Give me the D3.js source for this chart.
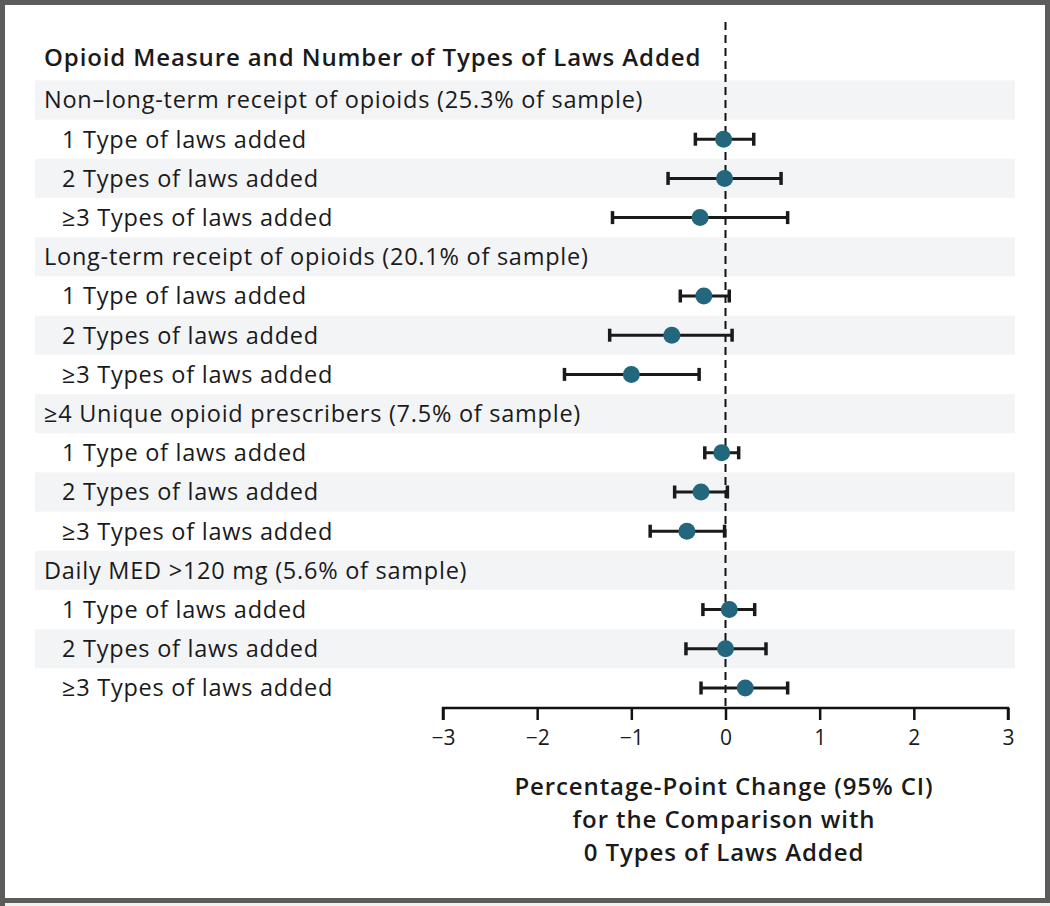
<!DOCTYPE html>
<html>
<head>
<meta charset="utf-8">
<script src="https://cdn.jsdelivr.net/npm/d3@7"></script>
<style>
  html, body { margin: 0; padding: 0; background: #ffffff; }
  svg { display: block; }
  text { font-family: "Open Sans", "Noto Sans", sans-serif; fill: #1a1a1a; }
</style>
</head>
<body>
<svg id="chart" width="1050" height="906"></svg>
<script>
// ---- Data ----
const title = "Opioid Measure and Number of Types of Laws Added";
const measures = [
  "Non\u2013long-term receipt of opioids (25.3% of sample)",
  "Long-term receipt of opioids (20.1% of sample)",
  "\u22654 Unique opioid prescribers (7.5% of sample)",
  "Daily MED >120 mg (5.6% of sample)"
];
const lawLevels = ["1 Type of laws added", "2 Types of laws added", "\u22653 Types of laws added"];
// estimates and 95% CI per measure (rows) x law level (cols)
const estimates = [
  [-0.02, -0.01, -0.27],
  [-0.23, -0.57, -1.00],
  [-0.04, -0.26, -0.41],
  [ 0.04,  0.00,  0.21]
];
const lowerCI = [
  [-0.32, -0.61, -1.20],
  [-0.48, -1.23, -1.71],
  [-0.22, -0.54, -0.80],
  [-0.24, -0.42, -0.26]
];
const upperCI = [
  [ 0.30,  0.59,  0.66],
  [ 0.04,  0.07, -0.28],
  [ 0.14,  0.02, -0.01],
  [ 0.31,  0.43,  0.66]
];
const xTicks = [-3, -2, -1, 0, 1, 2, 3];
const xTickLabels = ["\u22123", "\u22122", "\u22121", "0", "1", "2", "3"];
const axisTitle = ["Percentage-Point Change (95% CI)", "for the Comparison with", "0 Types of Laws Added"];

// ---- Build rows ----
const rows = [];
measures.forEach((m, i) => {
  rows.push({ label: m, header: true });
  lawLevels.forEach((l, j) => {
    rows.push({ label: l, header: false, est: estimates[i][j], lo: lowerCI[i][j], hi: upperCI[i][j] });
  });
});

const svg = d3.select("#chart");
const W = 1050, H = 906;

// frame
svg.append("rect").attr("x", 0).attr("y", 0).attr("width", W).attr("height", H).attr("fill", "#5c5c5c");
svg.append("rect").attr("x", 0).attr("y", 903).attr("width", W).attr("height", 3).attr("fill", "#f2f2ee");
svg.append("rect").attr("x", 0).attr("y", 899).attr("width", 5).attr("height", 7).attr("fill", "#5c5c5c");
svg.append("rect").attr("x", 5).attr("y", 5).attr("width", 1040).attr("height", 893).attr("fill", "#ffffff");

const x = d3.scaleLinear().domain([-3, 3]).range([443, 1008]);
const y = d3.scaleBand().domain(d3.range(rows.length)).range([80.4, 707.6]).padding(0);

// shaded bands
svg.append("g").selectAll("rect").data(rows).join("rect")
  .attr("x", 35).attr("width", 980)
  .attr("y", (d, i) => y(i)).attr("height", y.bandwidth())
  .attr("fill", (d, i) => i % 2 === 0 ? "#f3f4f6" : "none");

// title
svg.append("text").attr("x", 44).attr("y", 66).text(title)
  .style("font-size", "24px").style("font-weight", "600").style("letter-spacing", "0.9px");

// labels
svg.append("g").selectAll("text").data(rows).join("text")
  .attr("x", d => d.header ? 44 : 62)
  .attr("y", (d, i) => y(i) + y.bandwidth() / 2)
  .attr("dy", "0.36em")
  .style("font-size", "23.5px")
  .style("letter-spacing", "0.75px")
  .text(d => d.label);

// zero reference
svg.append("line").attr("x1", x(0)).attr("x2", x(0)).attr("y1", 22).attr("y2", 708)
  .attr("stroke", "#111").attr("stroke-width", 2).attr("stroke-dasharray", "8,5");

// axis
const axis = d3.axisBottom(x).tickValues(xTicks).tickFormat((d, i) => xTickLabels[i]).tickSize(12).tickPadding(10);
const ag = svg.append("g").attr("transform", "translate(0,708)").call(axis);
ag.select(".domain").attr("stroke", "#111").attr("stroke-width", 2.5).attr("d", `M${x(-3)},12V0H${x(3)}V12`);
ag.selectAll(".tick line").attr("stroke", "#111").attr("stroke-width", 2.5);
ag.selectAll(".tick text").style("font-size", "21px").style("font-family", "'Open Sans', sans-serif").attr("fill", "#1a1a1a");

// axis title
svg.append("g").selectAll("text").data(axisTitle).join("text")
  .attr("x", 724).attr("y", (d, i) => 795 + i * 33)
  .attr("text-anchor", "middle")
  .style("font-size", "24px").style("font-weight", "600").style("letter-spacing", "0.9px")
  .text(d => d);

// error bars
const dataRows = rows.map((d, i) => ({ ...d, i })).filter(d => !d.header);
const eg = svg.append("g");
eg.selectAll("line.ci").data(dataRows).join("line").attr("class", "ci")
  .attr("x1", d => x(d.lo)).attr("x2", d => x(d.hi))
  .attr("y1", d => y(d.i) + y.bandwidth() / 2).attr("y2", d => y(d.i) + y.bandwidth() / 2)
  .attr("stroke", "#1a1a1a").attr("stroke-width", 3);
eg.selectAll("rect.capl").data(dataRows).join("rect").attr("class", "capl")
  .attr("x", d => x(d.lo) - 1.75).attr("width", 3.5)
  .attr("y", d => y(d.i) + y.bandwidth() / 2 - 6.5).attr("height", 13).attr("fill", "#1a1a1a");
eg.selectAll("rect.capr").data(dataRows).join("rect").attr("class", "capr")
  .attr("x", d => x(d.hi) - 1.75).attr("width", 3.5)
  .attr("y", d => y(d.i) + y.bandwidth() / 2 - 6.5).attr("height", 13).attr("fill", "#1a1a1a");
eg.selectAll("circle").data(dataRows).join("circle")
  .attr("cx", d => x(d.est)).attr("cy", d => y(d.i) + y.bandwidth() / 2)
  .attr("r", 8.5).attr("fill", "#22677e");
</script>
</body>
</html>
